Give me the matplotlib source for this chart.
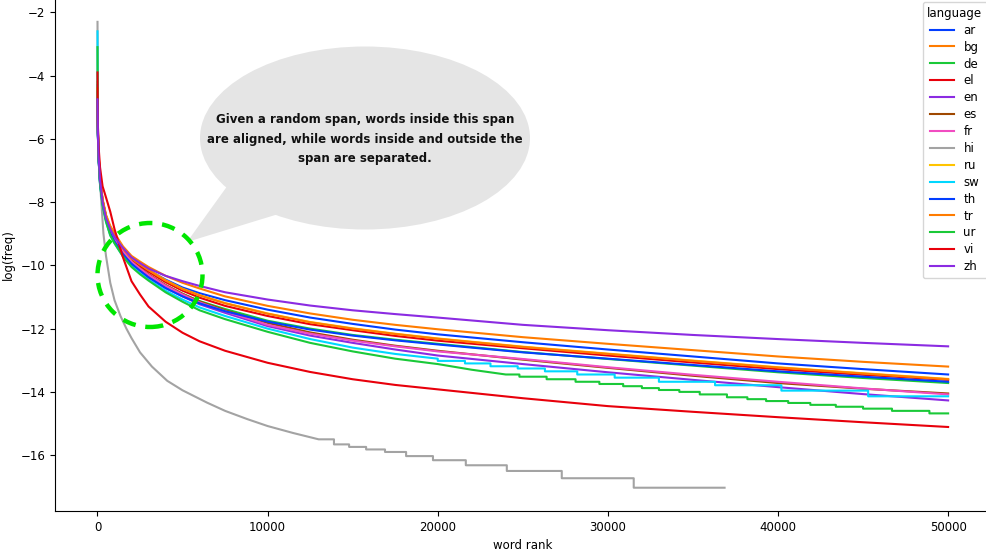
#-------------------------------------------------------------------------------
# Word frequency by rank for each language (log scale)
#-------------------------------------------------------------------------------
import matplotlib
matplotlib.use("Agg")
import matplotlib.pyplot as plt
from matplotlib.patches import Ellipse, Polygon
#-------------------------------------------------------------------------------
# Data
#-------------------------------------------------------------------------------
languages = ["ar", "bg", "de", "el", "en", "es", "fr", "hi", "ru", "sw", "th", "tr", "ur", "vi", "zh"]

ranks = [1, 20, 60, 150, 300, 500, 750, 1000, 1500, 2000, 2500, 3000, 4000, 5000, 6000, 7500,
         10000, 12500, 15000, 17500, 20000, 25000, 30000, 35000, 40000, 45000, 50000]

ar = [-4.3, -5.7, -6.5, -7.3, -7.95, -8.45, -8.82, -9.05, -9.5, -9.8, -9.98, -10.15, -10.45, -10.7,
      -10.88, -11.1, -11.4, -11.65, -11.85, -12.03, -12.18, -12.43, -12.66, -12.88, -13.1, -13.28, -13.45]
bg = [-4.2, -5.6, -6.4, -7.2, -7.9, -8.4, -8.75, -8.98, -9.4, -9.7, -9.88, -10.05, -10.33, -10.55,
      -10.73, -10.98, -11.28, -11.52, -11.72, -11.88, -12.02, -12.27, -12.48, -12.68, -12.88, -13.05, -13.2]
de = [-4.4, -5.75, -6.55, -7.35, -8.0, -8.5, -8.9, -9.15, -9.55, -9.88, -10.1, -10.3, -10.63, -10.9,
      -11.13, -11.38, -11.75, -12.0, -12.2, -12.35, -12.48, -12.74, -12.96, -13.17, -13.38, -13.56, -13.72]
el = [-4.5, -5.7, -6.5, -7.3, -7.95, -8.45, -8.85, -9.1, -9.5, -9.82, -10.02, -10.2, -10.53, -10.8,
      -11.02, -11.28, -11.6, -11.86, -12.05, -12.23, -12.38, -12.62, -12.85, -13.07, -13.28, -13.46, -13.62]
en = [-4.6, -5.8, -6.6, -7.4, -8.0, -8.55, -8.95, -9.2, -9.6, -9.92, -10.15, -10.35, -10.7, -10.98,
      -11.23, -11.5, -11.92, -12.22, -12.45, -12.66, -12.85, -13.12, -13.38, -13.62, -13.85, -14.07, -14.27]
es = [-4.5, -5.75, -6.55, -7.35, -8.0, -8.5, -8.9, -9.15, -9.55, -9.87, -10.08, -10.28, -10.62, -10.9,
      -11.14, -11.42, -11.82, -12.12, -12.35, -12.54, -12.7, -12.98, -13.24, -13.49, -13.72, -13.9, -14.05]
fr = [-4.5, -5.75, -6.55, -7.35, -8.0, -8.5, -8.9, -9.15, -9.55, -9.88, -10.1, -10.3, -10.64, -10.92,
      -11.17, -11.45, -11.88, -12.16, -12.38, -12.56, -12.72, -12.96, -13.22, -13.46, -13.68, -13.89, -14.08]
ru = [-4.4, -5.65, -6.45, -7.25, -7.95, -8.43, -8.8, -9.02, -9.46, -9.77, -9.96, -10.14, -10.47, -10.74,
      -10.94, -11.19, -11.52, -11.79, -11.99, -12.16, -12.31, -12.57, -12.79, -13.01, -13.22, -13.41, -13.59]
th = [-4.5, -5.8, -6.6, -7.4, -8.05, -8.57, -8.98, -9.25, -9.65, -9.95, -10.17, -10.38, -10.72, -10.98,
      -11.2, -11.45, -11.78, -12.03, -12.22, -12.37, -12.5, -12.75, -12.95, -13.15, -13.35, -13.52, -13.68]
tr = [-4.4, -5.65, -6.45, -7.25, -7.95, -8.43, -8.8, -9.02, -9.47, -9.78, -9.97, -10.15, -10.48, -10.75,
      -10.95, -11.2, -11.53, -11.8, -12.0, -12.17, -12.32, -12.58, -12.8, -13.02, -13.23, -13.42, -13.6]
vi = [-3.9, -5.5, -6.2, -6.9, -7.5, -7.85, -8.3, -8.85, -9.75, -10.5, -10.92, -11.3, -11.78, -12.13,
      -12.4, -12.7, -13.08, -13.37, -13.6, -13.78, -13.92, -14.2, -14.45, -14.63, -14.8, -14.96, -15.11]
zh = [-4.75, -5.7, -6.5, -7.3, -8.0, -8.5, -8.85, -9.1, -9.45, -9.75, -9.93, -10.1, -10.33, -10.5,
      -10.65, -10.85, -11.08, -11.27, -11.42, -11.54, -11.65, -11.88, -12.05, -12.2, -12.33, -12.45, -12.56]

# smooth head of sw, ur and hi, then the flat steps of their tails
sw_head_ranks = [1, 20, 60, 150, 300, 500, 750, 1000, 1500, 2000, 2500, 3000, 4000, 5000, 6000,
                 7500, 10000, 12500, 15000, 17500, 20000]
sw_head = [-2.6, -5.8, -6.6, -7.45, -8.1, -8.62, -9.05, -9.3, -9.72, -10.02, -10.25, -10.45, -10.8,
           -11.08, -11.33, -11.6, -12.0, -12.33, -12.6, -12.8, -12.95]
sw_step_ranks = [20000, 21600, 23100, 24700, 26300, 28200, 30400, 33000, 36300, 40200, 45300]
sw_steps = [-13.02, -13.1, -13.19, -13.26, -13.35, -13.45, -13.55, -13.68, -13.79, -13.96, -14.14]
sw_last_rank = 50000

ur_head_ranks = [1, 20, 60, 150, 300, 500, 750, 1000, 1500, 2000, 2500, 3000, 4000, 5000, 6000,
                 7500, 10000, 12500, 15000, 17500, 20000, 22000, 24000]
ur_head = [-3.1, -5.8, -6.6, -7.45, -8.1, -8.62, -9.05, -9.3, -9.72, -10.05, -10.28, -10.48, -10.85,
           -11.15, -11.42, -11.7, -12.1, -12.45, -12.72, -12.95, -13.12, -13.3, -13.45]
ur_step_ranks = [24800, 26400, 28100, 29500, 30900, 32000, 33000, 34200, 35400, 37000, 38200,
                 39300, 40600, 41900, 43400, 45000, 46700, 48900]
ur_steps = [-13.52, -13.6, -13.68, -13.75, -13.82, -13.88, -13.94, -14.0, -14.08, -14.17, -14.23,
            -14.29, -14.35, -14.41, -14.47, -14.53, -14.6, -14.68]
ur_last_rank = 50000

hi_head_ranks = [1, 20, 60, 100, 150, 200, 275, 350, 500, 750, 1000, 1350, 1700, 2000, 2500, 3200,
                 4100, 5000, 6440, 7500, 8800, 10000, 11500, 13000]
hi_head = [-2.3, -5.5, -6.4, -6.9, -7.4, -7.8, -8.4, -9.0, -9.7, -10.55, -11.1, -11.6, -12.0, -12.3,
           -12.75, -13.2, -13.65, -13.95, -14.34, -14.6, -14.86, -15.08, -15.3, -15.5]
hi_step_ranks = [13900, 14790, 15790, 16900, 18140, 19720, 21650, 24060, 27290, 31520]
hi_steps = [-15.66, -15.74, -15.82, -15.9, -16.03, -16.16, -16.32, -16.5, -16.73, -17.03]
hi_last_rank = 36860

palette = ['#023eff', '#ff7c00', '#1ac938', '#e8000b', '#8b2be2', '#9f4800', '#f14cc1',
           '#a3a3a3', '#ffc400', '#00d7ff']

callout = ("Given a random span, words inside this span\n"
           "are aligned, while words inside and outside the\n"
           "span are separated.")
#-------------------------------------------------------------------------------
# Helper: smooth head followed by flat steps
#-------------------------------------------------------------------------------
def withSteps(headRanks, head, stepRanks, steps, lastRank):
    xs, ys = list(headRanks), list(head)
    for r, v in zip(stepRanks, steps):
        xs.append(r)
        ys.append(ys[-1])
        xs.append(r)
        ys.append(v)
    xs.append(lastRank)
    ys.append(ys[-1])
    return xs, ys

series = {
    "ar": (ranks, ar), "bg": (ranks, bg), "de": (ranks, de), "el": (ranks, el),
    "en": (ranks, en), "es": (ranks, es), "fr": (ranks, fr),
    "hi": withSteps(hi_head_ranks, hi_head, hi_step_ranks, hi_steps, hi_last_rank),
    "ru": (ranks, ru),
    "sw": withSteps(sw_head_ranks, sw_head, sw_step_ranks, sw_steps, sw_last_rank),
    "th": (ranks, th), "tr": (ranks, tr),
    "ur": withSteps(ur_head_ranks, ur_head, ur_step_ranks, ur_steps, ur_last_rank),
    "vi": (ranks, vi), "zh": (ranks, zh),
}
#-------------------------------------------------------------------------------
# Make the Graph
#-------------------------------------------------------------------------------
plt.rcParams['font.family'] = ['DejaVu Sans']
fig = plt.figure(figsize=(9.87, 5.54), dpi=100)
ax = fig.add_axes([0.0557, 0.0776, 0.948, 0.925])

for i, lang in enumerate(languages):
    xs, ys = series[lang]
    ax.plot(xs, ys, color=palette[i % len(palette)], lw=1.5, label=lang)

ax.spines['top'].set_visible(False)
ax.spines['right'].set_visible(False)
ax.set_xticks([0, 10000, 20000, 30000, 40000, 50000])
ax.set_yticks([-16, -14, -12, -10, -8, -6, -4, -2])
ax.tick_params(labelsize=8.5)
ax.set_xlabel("word rank", fontsize=8.5)
ax.set_ylabel("log(freq)", fontsize=8.5)

leg = ax.legend(title="language", loc="upper right", fontsize=8.5, title_fontsize=8.5,
                labelspacing=0.33, handlelength=2.0, borderaxespad=0.3)

# speech bubble
W, H = 987.0, 554.0
def fx(px):
    return px / W
def fy(py):
    return 1 - py / H
tail = Polygon([(fx(228), fy(185)), (fx(187), fy(242)), (fx(285), fy(212))],
               closed=True, transform=fig.transFigure, facecolor='#e5e5e5',
               edgecolor='none', zorder=5)
bubble = Ellipse((fx(365), fy(138)), 330 / W, 183 / H, transform=fig.transFigure,
                 facecolor='#e5e5e5', edgecolor='none', zorder=5)
fig.patches.extend([tail, bubble])
fig.text(fx(365), fy(139), callout, ha='center', va='center', fontsize=8.5,
         fontweight='bold', linespacing=1.65, color='#111111', zorder=6)

# dashed green circle
ring = Ellipse((fx(150), fy(275)), 105 / W, 104 / H, transform=fig.transFigure,
               facecolor='none', edgecolor='#00e600', lw=3.2, linestyle=(0, (3, 2.2)),
               zorder=7)
fig.patches.append(ring)

fig.savefig("out.png", dpi=100)
#-------------------------------------------------------------------------------
# Fin
#-------------------------------------------------------------------------------
